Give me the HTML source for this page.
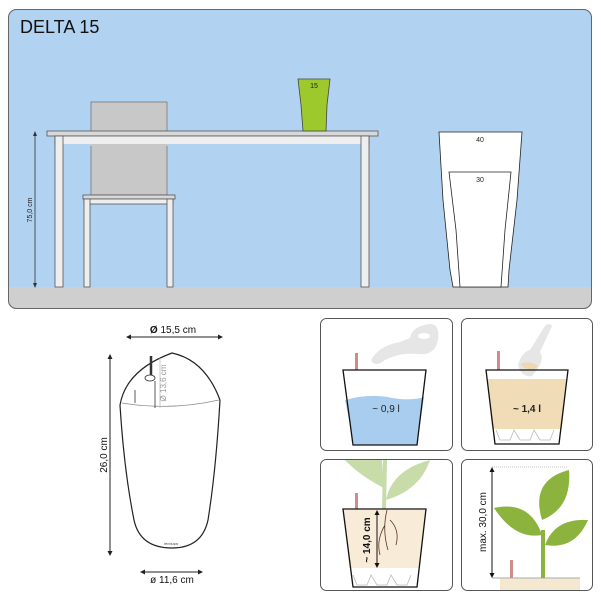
<!DOCTYPE html>
<html><head><meta charset="utf-8"><style>
html,body{margin:0;padding:0;background:#fff;}
svg{display:block;font-family:"Liberation Sans",sans-serif;}
</style></head><body>
<svg width="601" height="600" viewBox="0 0 601 600" xmlns="http://www.w3.org/2000/svg">
<defs>
<clipPath id="top"><rect x="8" y="9" width="584" height="300" rx="8"/></clipPath>
</defs>
<g clip-path="url(#top)">
<rect x="8" y="9" width="584" height="300" fill="#b1d2f0"/>
<rect x="8" y="287" width="584" height="22" fill="#cfcfcf"/>
</g>
<rect x="8.5" y="9.5" width="583" height="299" rx="8" fill="none" stroke="#666" stroke-width="1"/>
<text x="20" y="33" font-size="18" fill="#111">DELTA 15</text>
<!-- chair back -->
<rect x="91" y="102" width="76" height="93" fill="#c8c8c8" stroke="#777" stroke-width="0.8"/>
<!-- table -->
<rect x="47" y="131" width="331" height="5" fill="#d8d8d8" stroke="#555" stroke-width="0.8"/>
<rect x="55" y="136" width="314" height="9" fill="#eee" stroke="#555" stroke-width="0.8"/>
<rect x="63" y="144" width="298" height="2" fill="#b1d2f0"/>
<rect x="91" y="144" width="76" height="2" fill="#c8c8c8"/>
<rect x="55" y="136" width="8" height="151" fill="#eee" stroke="#555" stroke-width="0.8"/>
<rect x="361" y="136" width="8" height="151" fill="#eee" stroke="#555" stroke-width="0.8"/>
<!-- chair seat -->
<rect x="83" y="195" width="92" height="4" fill="#d8d8d8" stroke="#555" stroke-width="0.8"/>
<rect x="84" y="199" width="89" height="5" fill="#eee" stroke="#555" stroke-width="0.8"/>
<rect x="84" y="199" width="6" height="88" fill="#eee" stroke="#555" stroke-width="0.8"/>
<rect x="167" y="199" width="6" height="88" fill="#eee" stroke="#555" stroke-width="0.8"/>
<!-- height dim -->
<line x1="35" y1="134" x2="35" y2="286" stroke="#333" stroke-width="0.8"/>
<path d="M35 131 l-2 5 h4z M35 288 l-2 -5 h4z" fill="#333"/>
<text transform="translate(32,210) rotate(-90)" font-size="7" text-anchor="middle" fill="#222">75,0 cm</text>
<!-- green pot -->
<path d="M298 79 L330 79 L327 105 L326 131 L303 131 L301 105 Z" fill="#9dc92c" stroke="#444" stroke-width="0.8"/>
<text x="314" y="88" font-size="7" text-anchor="middle" fill="#222">15</text>
<!-- tall pot -->
<path d="M439 132 L522 132 L517 200 L509 270 L508 287 L453 287 L450 270 L443 200 Z" fill="#fff" stroke="#222" stroke-width="0.8"/>
<path d="M449 172 L511 172 L505 230 L501 287 L460 287 L456 230 Z" fill="#fff" stroke="#222" stroke-width="0.8"/>
<text x="480" y="142" font-size="7" text-anchor="middle" fill="#222">40</text>
<text x="480" y="182" font-size="7" text-anchor="middle" fill="#222">30</text>

<!-- left product drawing -->
<line x1="128" y1="337" x2="221" y2="337" stroke="#222" stroke-width="1"/>
<path d="M126 337 l5 -2.5 v5z M223 337 l-5 -2.5 v5z" fill="#222"/>
<text x="173" y="333" font-size="10" text-anchor="middle" fill="#111" font-weight="bold">Ø <tspan font-weight="normal">15,5 cm</tspan></text>
<line x1="110" y1="356" x2="110" y2="554" stroke="#222" stroke-width="1"/>
<path d="M110 354 l-2.5 5 h5z M110 556 l-2.5 -5 h5z" fill="#222"/>
<text transform="translate(107,455) rotate(-90)" font-size="10" text-anchor="middle" fill="#111">26,0 cm</text>
<path d="M120 405 Q126 370 172 353 Q205 360 220 400" fill="#fff" stroke="#222" stroke-width="1.2"/>
<path d="M122 403 Q170 411 219 400" fill="none" stroke="#888" stroke-width="0.8"/>
<path d="M135 390 L135 403 M155 381 L155 408" stroke="#333" stroke-width="0.8"/>
<line x1="160" y1="358" x2="160" y2="408" stroke="#bbb" stroke-width="0.8"/>
<line x1="151" y1="356" x2="151" y2="380" stroke="#333" stroke-width="2.5"/>
<ellipse cx="150" cy="378" rx="5" ry="3" fill="#fff" stroke="#333" stroke-width="0.8"/>
<text transform="translate(166,383) rotate(-90)" font-size="8" text-anchor="middle" fill="#999">Ø 13,6 cm</text>
<path d="M120 405 Q124 470 134 520 Q140 548 172 548 Q202 548 208 520 Q216 470 220 400" fill="none" stroke="#222" stroke-width="1.2"/>
<text x="171" y="545" font-size="4" text-anchor="middle" fill="#444" font-style="italic">lechuza</text>
<line x1="142" y1="572" x2="201" y2="572" stroke="#222" stroke-width="1"/>
<path d="M140 572 l5 -2.5 v5z M203 572 l-5 -2.5 v5z" fill="#222"/>
<text x="172" y="583" font-size="10" text-anchor="middle" fill="#111">ø 11,6 cm</text>

<!-- tiles -->
<g fill="#fff" stroke="#555" stroke-width="1">
<rect x="320.5" y="318.5" width="132" height="132" rx="6"/>
<rect x="461.5" y="318.5" width="131" height="132" rx="6"/>
<rect x="320.5" y="459.5" width="132" height="131" rx="6"/>
<rect x="461.5" y="459.5" width="131" height="131" rx="6"/>
</g>
<!-- tile1 -->
<path d="M371 360 Q380 345 400 342 L410 338 Q412 326 430 324 Q440 324 438 340 Q435 356 418 354 Q400 352 385 360 Q375 368 371 360Z" fill="#e6e6e6"/>
<ellipse cx="424" cy="336" rx="6" ry="3" fill="#fff"/>
<rect x="355" y="353" width="3" height="17" fill="#d08c8c"/>
<path d="M345 400 Q370 393 392 398 Q412 401 424 397 L417 445 L354 445 Z" fill="#a9cdef"/>
<path d="M343 370 L426 370 L417 445 L353 445 Z" fill="none" stroke="#111" stroke-width="1.3"/>
<text x="386" y="412" font-size="10" text-anchor="middle" fill="#222">~ 0,9 l</text>
<!-- tile2 -->
<path d="M518 365 Q522 352 530 350 L545 326 Q549 322 552 326 L540 352 Q546 360 532 376 Q522 378 518 365Z" fill="#e6e6e6"/>
<path d="M520 364 Q530 360 538 366 Q530 375 520 364Z" fill="#ecd9b2"/>
<rect x="497" y="351" width="3" height="19" fill="#d08c8c"/>
<path d="M487 379 L567 379 L562 429 L492 429 Z" fill="#f0ddb8"/>
<path d="M496 430 L500 440 L510 440 L514 430 L520 440 L530 440 L534 430 L540 440 L550 440 L554 430" fill="none" stroke="#bbb" stroke-width="0.8"/>
<path d="M486 370 L568 370 L559 444 L495 444 Z" fill="none" stroke="#111" stroke-width="1.3"/>
<text x="527" y="412" font-size="10" text-anchor="middle" fill="#222" font-weight="bold">~ 1,4 l</text>
<!-- tile3 -->
<path d="M384 509 L385 460" stroke="#c8dcaa" stroke-width="4"/>
<path d="M384 488 Q360 476 345 460 L382 460 Z" fill="#c8dcaa"/>
<path d="M386 500 Q392 470 430 460 Q420 490 386 500Z" fill="#c8dcaa"/>
<rect x="355" y="493" width="3" height="16" fill="#d08c8c"/>
<path d="M344 510 L426 510 L420 568 L349 568 Z" fill="#f8ecd9"/>
<path d="M353 575 L357 585 L367 585 L371 575 L377 585 L387 585 L391 575 L397 585 L407 585 L411 575" fill="none" stroke="#bbb" stroke-width="0.8"/>
<path d="M387 510 Q382 530 388 550 M390 520 Q400 530 396 545 M385 525 Q376 540 380 555" fill="none" stroke="#553322" stroke-width="0.8"/>
<path d="M343 509 L426 509 L417 587 L353 587 Z" fill="none" stroke="#111" stroke-width="1.3"/>
<line x1="377" y1="513" x2="377" y2="565" stroke="#111" stroke-width="1"/>
<path d="M377 510 l-2.5 5 h5z M377 568 l-2.5 -5 h5z" fill="#111"/>
<text transform="translate(370,540) rotate(-90)" font-size="10" text-anchor="middle" fill="#111" font-weight="bold">~ 14,0 cm</text>
<!-- tile4 -->
<rect x="500" y="578" width="80" height="12" fill="#f5e8d0"/>
<line x1="492" y1="467" x2="568" y2="467" stroke="#888" stroke-width="0.6" stroke-dasharray="1,1"/>
<line x1="492" y1="578" x2="580" y2="578" stroke="#aaa" stroke-width="1"/>
<rect x="510" y="560" width="3" height="18" fill="#d08c8c"/>
<path d="M543 578 L543 530" stroke="#8db33f" stroke-width="4"/>
<path d="M542 535 Q515 540 494 508 Q530 500 542 535Z" fill="#8db33f"/>
<path d="M542 520 Q530 480 569 470 Q572 508 542 520Z" fill="#8db33f"/>
<path d="M545 545 Q555 518 588 520 Q575 550 545 545Z" fill="#8db33f"/>
<line x1="492" y1="470" x2="492" y2="575" stroke="#111" stroke-width="1"/>
<path d="M492 467 l-2.5 5 h5z M492 578 l-2.5 -5 h5z" fill="#111"/>
<text transform="translate(486,522) rotate(-90)" font-size="10" text-anchor="middle" fill="#111">max. 30,0 cm</text>
</svg>
</body></html>
